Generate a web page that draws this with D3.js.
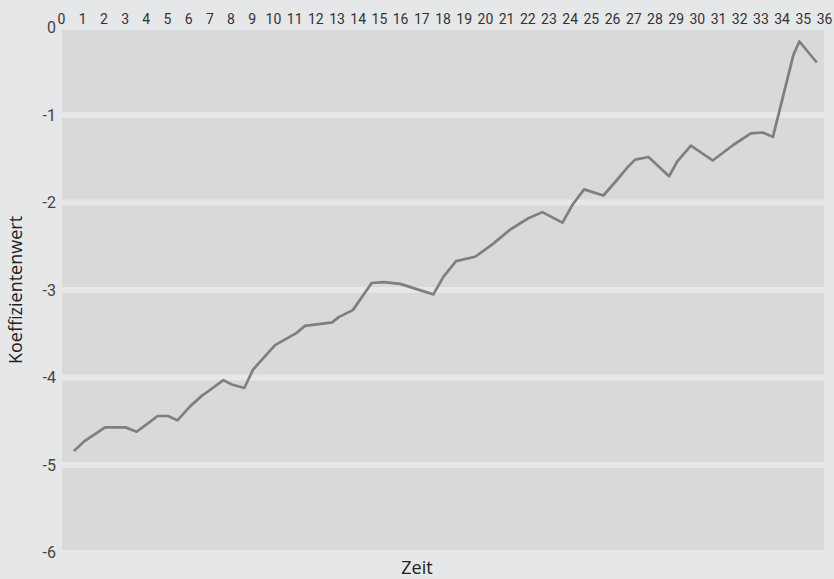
<!DOCTYPE html>
<html>
<head>
<meta charset="utf-8">
<script src="https://cdn.jsdelivr.net/npm/d3@7"></script>
<style>
	body { margin: 0; background: #e6e7e9; }
	text { font-family: Roboto, "Open Sans", sans-serif; }
</style>
</head>
<body>
<div id="chart"></div>
<script>
// time position (in units of the top axis) and coefficient value
const zeit = [
	0.61, 1.09, 2.08, 3.05, 3.57, 4.07, 4.56, 5.06, 5.49, 6.09,
	6.64, 7.16, 7.66, 8.06, 8.65, 9.06, 10.10, 11.12, 11.51, 12.80,
	13.10, 13.77, 14.66, 15.24, 16.00, 17.57, 18.04, 18.64, 19.54, 20.40,
	21.19, 22.05, 22.71, 23.66, 24.15, 24.68, 25.59, 26.24, 26.76, 27.09,
	27.72, 28.69, 29.08, 29.72, 30.75, 31.73, 32.55, 33.11, 33.59, 34.56,
	34.84, 35.66
];
const koeffizient = [
	-4.84, -4.73, -4.57, -4.57, -4.62, -4.53, -4.44, -4.44, -4.49, -4.33,
	-4.21, -4.12, -4.03, -4.08, -4.12, -3.91, -3.63, -3.49, -3.41, -3.37,
	-3.31, -3.23, -2.92, -2.91, -2.93, -3.05, -2.85, -2.67, -2.62, -2.47,
	-2.31, -2.18, -2.11, -2.23, -2.02, -1.85, -1.92, -1.74, -1.59, -1.51,
	-1.48, -1.70, -1.53, -1.35, -1.52, -1.34, -1.21, -1.20, -1.25, -0.31,
	-0.16, -0.40
];
const xTicks = d3.range(0, 37);
const yTicks = [0, -1, -2, -3, -4, -5, -6];

const width = 834, height = 579;
const plot = { left: 62, right: 824, top: 30, bottom: 550 };

const svg = d3.select('#chart')
	.append('svg')
	.attr('width', width)
	.attr('height', height);

const x = d3.scaleLinear().domain([0, 36]).range([61, 824]);
const y = d3.scaleLinear().domain([0, -6]).range([27.5, 552.5]);

svg.append('rect')
	.attr('width', width)
	.attr('height', height)
	.attr('fill', '#e6e7e9');

svg.append('rect')
	.attr('x', plot.left)
	.attr('y', plot.top)
	.attr('width', plot.right - plot.left)
	.attr('height', plot.bottom - plot.top)
	.attr('fill', '#d8d9db');

// wide gridlines in the page colour
svg.append('g')
	.selectAll('line')
	.data(yTicks.filter((d) => d < 0 && d > -6))
	.enter()
	.append('line')
	.attr('x1', plot.left)
	.attr('x2', plot.right)
	.attr('y1', (d) => y(d))
	.attr('y2', (d) => y(d))
	.attr('stroke', '#e6e7e9')
	.attr('stroke-width', 6);

let yAxis = svg.append('g')
	.attr('transform', `translate(${plot.left - 6}, 0)`)
	.call(d3.axisLeft(y).tickValues(yTicks).tickSize(0).tickPadding(0).tickFormat((d) => String(d)));
yAxis.select('.domain').remove();
yAxis.selectAll('text')
	.attr('font-size', 16)
	.attr('fill', '#444')
	.style('font-family', 'Roboto, sans-serif');

let xAxis = svg.append('g')
	.attr('transform', `translate(0, ${plot.top - 6})`)
	.call(d3.axisTop(x).tickValues(xTicks).tickSize(0).tickPadding(0).tickFormat((d) => String(d)));
xAxis.select('.domain').remove();
xAxis.selectAll('text')
	.attr('font-size', 14)
	.attr('fill', '#333')
	.style('font-family', 'Roboto, sans-serif');

const line = d3.line()
	.x((d, i) => x(zeit[i]))
	.y((d) => y(d));

svg.append('path')
	.datum(koeffizient)
	.attr('d', line)
	.attr('fill', 'none')
	.attr('stroke', '#7f7f7f')
	.attr('stroke-width', 2.7)
	.attr('stroke-linejoin', 'round');

svg.append('text')
	.attr('x', (plot.left + plot.right) / 2 - 26)
	.attr('y', 574)
	.attr('text-anchor', 'middle')
	.attr('font-size', 18)
	.attr('font-weight', 500)
	.attr('fill', '#222')
	.style('font-family', '"Open Sans", sans-serif')
	.text('Zeit');

svg.append('text')
	.attr('transform', `translate(22, 290) rotate(-90)`)
	.attr('text-anchor', 'middle')
	.attr('font-size', 18)
	.attr('font-weight', 500)
	.attr('fill', '#222')
	.style('font-family', '"Open Sans", sans-serif')
	.text('Koeffizientenwert');
</script>
</body>
</html>
